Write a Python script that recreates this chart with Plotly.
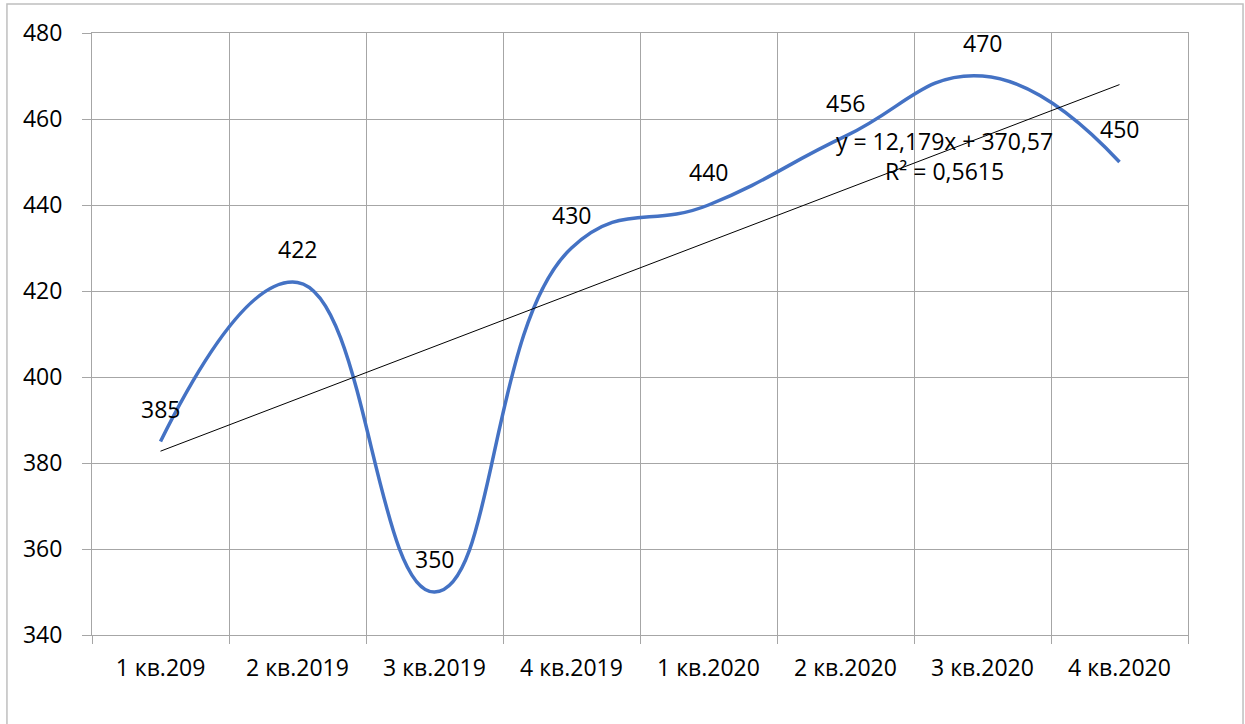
import numpy as np
import plotly.graph_objects as go

# Quarterly values
quarters = ["1 кв.209", "2 кв.2019", "3 кв.2019", "4 кв.2019",
            "1 кв.2020", "2 кв.2020", "3 кв.2020", "4 кв.2020"]
values = [385, 422, 350, 430, 440, 456, 470, 450]

# Linear trend over period number 1..N
t = np.arange(1, len(values) + 1)
slope, intercept = np.polyfit(t, values, 1)
trend = slope * t + intercept
ss_res = np.sum((np.array(values) - trend) ** 2)
ss_tot = np.sum((np.array(values) - np.mean(values)) ** 2)
r2 = 1 - ss_res / ss_tot

def fmt(v, nd):
    return f"{v:.{nd}f}".replace(".", ",")

eq_text = f"y = {fmt(slope, 3)}x + {fmt(intercept, 2)}<br>R² = {fmt(r2, 4)}"

FONT = "Open Sans"
FS = 23
GRID = "#a6a6a6"

fig = go.Figure()
fig.add_trace(go.Scatter(
    x=quarters, y=values, mode="lines",
    line=dict(color="#4472c4", width=3.5, shape="spline", smoothing=1.3),
    hoverinfo="x+y",
))
fig.add_trace(go.Scatter(
    x=quarters, y=trend, mode="lines",
    line=dict(color="#000000", width=1),
    hoverinfo="skip",
))

# Data labels above each point
for q, v in zip(quarters, values):
    fig.add_annotation(x=q, y=v, text=str(v), showarrow=False, yshift=33,
                       font=dict(family=FONT, size=FS, color="#000000"))

# Trendline equation
fig.add_annotation(x=5.72, y=451.5, text=eq_text, showarrow=False, align="center",
                   font=dict(family=FONT, size=FS, color="#000000"))

# Chart area border
fig.add_shape(type="rect", xref="paper", yref="paper",
              x0=-0.0776, x1=1.0502, y0=-0.16, y1=1.0482,
              line=dict(color="#bfbfbf", width=1.5), layer="below")

fig.update_layout(
    width=1245, height=724,
    margin=dict(l=92, r=57, t=33, b=89),
    paper_bgcolor="white", plot_bgcolor="white",
    showlegend=False,
    font=dict(family=FONT, size=FS, color="#000000"),
    xaxis=dict(
        type="category", range=[-0.5, 7.5], tickson="boundaries",
        showgrid=True, gridcolor=GRID, gridwidth=1,
        showline=True, linecolor=GRID, linewidth=1, mirror=True,
        ticks="outside", ticklen=8, tickcolor=GRID,
        ticklabelstandoff=12, zeroline=False,
        tickfont=dict(family=FONT, size=FS),
    ),
    yaxis=dict(
        range=[340, 480], dtick=20, tick0=340,
        showgrid=True, gridcolor=GRID, gridwidth=1,
        showline=True, linecolor=GRID, linewidth=1, mirror=True,
        ticks="outside", ticklen=9, tickcolor=GRID,
        ticklabelstandoff=15, zeroline=False,
        tickfont=dict(family=FONT, size=FS),
    ),
)

fig.write_html("out.html")
